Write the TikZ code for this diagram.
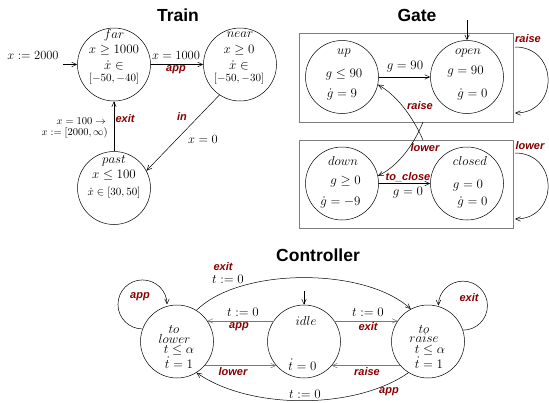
\RequirePackage{fix-cm}
\documentclass[tikz,border=0pt]{standalone}
\usepackage{fontspec}
\newfontfamily\sansfam{Liberation Sans}
\usetikzlibrary{arrows.meta,calc}
\definecolor{actred}{RGB}{135,0,0}
\definecolor{boxgray}{RGB}{125,125,125}
\definecolor{linegray}{RGB}{120,120,120}
\tikzset{
  loc/.style={draw, circle, minimum size=73pt, inner sep=0pt, line width=0.5pt},
  txt/.style={inner sep=0pt, font=\fontsize{13}{15}\selectfont},
  mid/.style={inner sep=0pt, font=\fontsize{12.5}{14}\selectfont},
  small/.style={inner sep=0pt, font=\fontsize{11}{13}\selectfont},
  tiny/.style={inner sep=0pt, font=\fontsize{10.5}{12}\selectfont},
  act/.style={inner sep=0pt, text=actred, font=\sansfam\bfseries\itshape\fontsize{11}{13}\selectfont},
  ttl/.style={inner sep=0pt, font=\sansfam\bfseries\fontsize{17.5}{20}\selectfont},
  trans/.style={draw, line width=0.5pt, -{Straight Barb[length=5pt,width=4.5pt]}},
  graytrans/.style={trans, draw=linegray},
  region/.style={draw=boxgray, line width=0.6pt, inner sep=0pt}
}
\begin{document}
\begin{tikzpicture}[x=1pt,y=1pt]
\useasboundingbox (0,0) rectangle (549,-402);

% ---------------- Train ----------------
\node[ttl] (train-title) at (178,-15) {Train};
\node[loc] (far) at (114,-64.5) {};
\node[loc] (near) at (240,-64.5) {};
\node[loc] (past) at (114,-188) {};

\node[txt] (far-1) at (114,-35) {$far$};
\node[txt] (far-2) at (114,-50) {$x \geq 1000$};
\node[txt] (far-3) at (114,-65) {$\dot{x} \in$};
\node[small] (far-4) at (114,-79) {$[-50,-40]$};

\node[txt] (near-1) at (240,-35) {$near$};
\node[txt] (near-2) at (239,-50) {$x \geq 0$};
\node[txt] (near-3) at (239,-65) {$\dot{x} \in$};
\node[small] (near-4) at (239,-79) {$[-50,-30]$};

\node[txt] (past-1) at (114,-161) {$past$};
\node[txt] (past-2) at (114,-175) {$x \leq 100$};
\node[small] (past-3) at (114,-193) {$\dot{x} \in [30,50]$};

\coordinate (far-init) at (63,-64.5);
\draw[trans] (far-init) -- (far.west);
\node[mid] (far-init-lbl) at (33,-55) {$x := 2000$};

\draw[trans] (far.east) -- (near.west);
\node[mid] (app-lbl) at (176,-55) {$x = 1000$};
\node[act] (app-act) at (176,-70) {app};

\draw[trans] (near.236) -- (past.28);
\node[act] (in-act) at (182,-117) {in};
\node[mid] (in-lbl) at (203,-139) {$x = 0$};

\draw[trans] (past.north) -- (far.south);
\node[act] (exit-act) at (125,-119) {exit};
\node[tiny, anchor=east] (exit-lbl1) at (106,-121) {$x = 100 \rightarrow$};
\node[tiny, anchor=east] (exit-lbl2) at (108,-133) {$x := [2000,\infty)$};

% ---------------- Gate ----------------
\node[ttl] (gate-title) at (417,-15) {Gate};
\node[region, minimum width=214pt, minimum height=89pt] (topbox) at (406,-77.5) {};
\node[region, minimum width=214pt, minimum height=88pt] (botbox) at (406,-184) {};

\node[loc] (up) at (342,-77) {};
\node[loc] (open) at (467,-77) {};
\node[loc] (down) at (342,-183.5) {};
\node[loc] (closed) at (467,-183.5) {};

\node[txt] (up-1) at (344,-53) {$up$};
\node[txt] (up-2) at (344,-75) {$g \leq 90$};
\node[txt] (up-3) at (342,-94) {$\dot{g} = 9$};

\node[txt] (open-1) at (468,-53) {$open$};
\node[txt] (open-2) at (465.5,-72) {$g = 90$};
\node[txt] (open-3) at (472.5,-94) {$\dot{g} = 0$};

\node[txt] (down-1) at (343,-161) {$down$};
\node[txt] (down-2) at (345.5,-182) {$g \geq 0$};
\node[txt] (down-3) at (340.5,-202) {$\dot{g} = -9$};

\node[txt] (closed-1) at (470,-161) {$closed$};
\node[txt] (closed-2) at (468,-186) {$g = 0$};
\node[txt] (closed-3) at (472.5,-202) {$\dot{g} = 0$};

\coordinate (open-init) at (467,-20);
\draw[trans] (open-init) -- (open.north);

\draw[trans] (up.east) -- (open.west);
\node[txt] (up-open-lbl) at (405,-67) {$g = 90$};

\draw[trans] (down.east) -- (closed.west);
\node[act] (close-act) at (408,-177) {to\_close};
\node[txt] (close-lbl) at (408,-193) {$g = 0$};

% transitions between the two regions
\coordinate (raise-src) at (423,-140);
\coordinate (lower-src) at (423,-122);
\draw[trans] (raise-src) .. controls (412,-115) and (396,-95) .. (up.-12);
\draw[trans] (lower-src) .. controls (415,-142) and (400,-165) .. (down.12);
\node[act] (raise-act) at (420,-106) {raise};
\node[act] (lower-act) at (425,-148) {lower};

% self loops on the regions
\coordinate (raise-a) at (515,-47);
\coordinate (raise-b) at (515,-113);
\draw[trans] (raise-a) .. controls (559,-47) and (559,-113) .. (raise-b);
\node[act] (raise-loop-act) at (528,-39) {raise};
\coordinate (lower-a) at (515,-153);
\coordinate (lower-b) at (515,-219);
\draw[trans] (lower-a) .. controls (559,-153) and (559,-219) .. (lower-b);
\node[act] (lower-loop-act) at (530,-146) {lower};

% ---------------- Controller ----------------
\node[ttl] (ctrl-title) at (318,-255) {Controller};
\node[loc] (tolower) at (177,-341.5) {};
\node[loc] (idle) at (304,-341.5) {};
\node[loc] (toraise) at (428,-341.5) {};

\node[txt] (tolower-1) at (174,-329) {$to$};
\node[txt] (tolower-2) at (174.5,-338.5) {$lower$};
\node[txt] (tolower-3) at (179,-350) {$t \leq \alpha$};
\node[txt] (tolower-4) at (179,-362.5) {$\dot{t} = 1$};

\node[txt] (toraise-1) at (424,-329) {$to$};
\node[txt] (toraise-2) at (424,-338.5) {$raise$};
\node[txt] (toraise-3) at (430,-350) {$t \leq \alpha$};
\node[txt] (toraise-4) at (429,-362.5) {$\dot{t} = 1$};

\node[txt] (idle-1) at (306,-321) {$idle$};
\node[txt] (idle-2) at (302.5,-364.5) {$\dot{t} = 0$};

\coordinate (idle-init) at (304,-291);
\draw[trans] (idle-init) -- (idle.north);

\draw[graytrans] (idle.146) -- (tolower.34);
\node[txt] (app-reset) at (243,-312) {$t := 0$};
\node[act] (app-c1) at (239,-327) {app};

\draw[graytrans] (idle.34) -- (toraise.146);
\node[txt] (exit-reset) at (368,-312) {$t := 0$};
\node[act] (exit-c1) at (368,-327) {exit};

\draw[graytrans] (tolower.-41) -- (idle.-139);
\node[act] (lower-c) at (233,-372) {lower};

\draw[graytrans] (toraise.-139) -- (idle.-41);
\node[act] (raise-c) at (367,-372) {raise};

\draw[trans] (tolower.58) .. controls (240,-267) and (365,-267) .. (toraise.118);
\node[act] (exit-c2) at (223,-267) {exit};
\node[txt] (exit-c2-reset) at (228,-279) {$t := 0$};

\draw[trans] (toraise.-122) .. controls (355,-410) and (250,-410) .. (tolower.-58);
\node[txt] (app-c2-reset) at (305,-394) {$t := 0$};
\node[act] (app-c2) at (389,-392) {app};

\draw[trans] (tolower.160) arc[start angle=270, end angle=0, radius=24.5];
\node[act] (app-loop) at (140,-297) {app};

\draw[trans] (toraise.18) arc[start angle=-90, end angle=180, radius=24.5];
\node[act] (exit-loop) at (469,-298) {exit};
\end{tikzpicture}
\end{document}
